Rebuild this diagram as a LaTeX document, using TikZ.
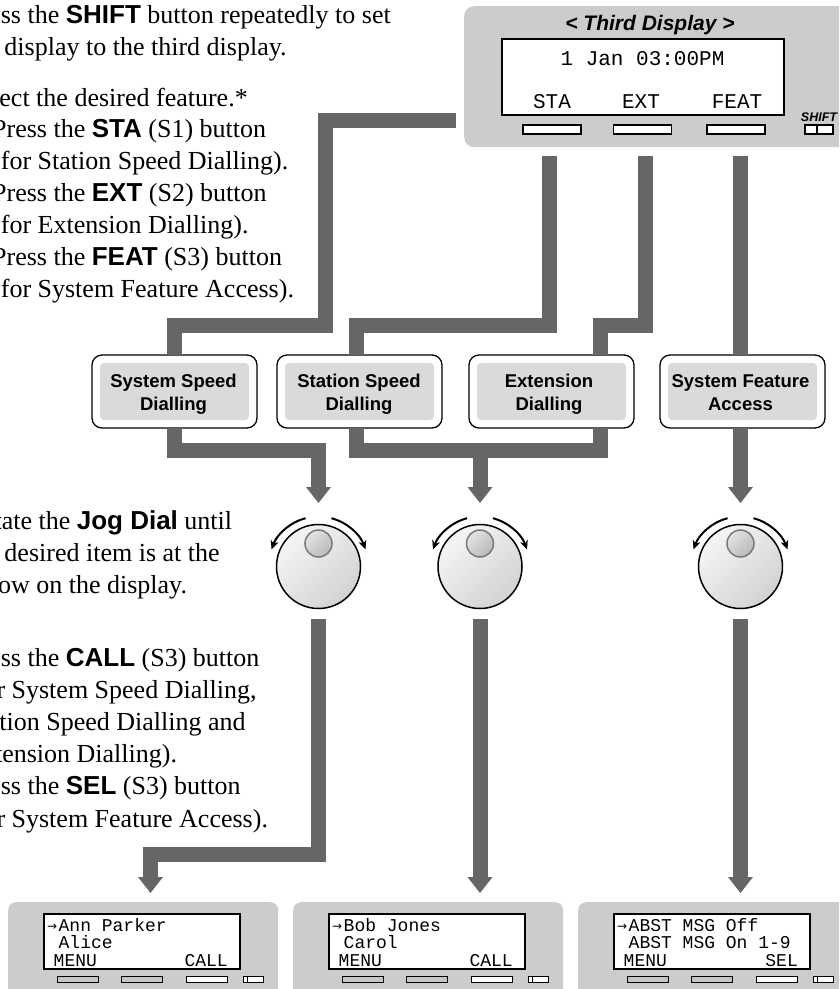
\documentclass[tikz,border=0pt]{standalone}
\usepackage{fontspec}
\setmainfont{Liberation Serif}
\newfontfamily\sansf{Liberation Sans}
\newfontfamily\monof{Liberation Mono}
\newfontfamily\arrf{DejaVu Sans}
\usetikzlibrary{arrows.meta,calc}
\definecolor{panelgray}{HTML}{CCCCCC}
\definecolor{conngray}{HTML}{666666}
\definecolor{boxgray}{HTML}{DADADA}
\definecolor{btngray}{HTML}{C6C6C6}
\newcommand\kw[1]{{\sansf\bfseries #1}}
\newcommand\headdown[1]{\fill[conngray] ($(#1)+(-12.5,-16)$) -- ($(#1)+(12.5,-16)$) -- (#1) -- cycle;}
\newcommand\botpanel[5]{%
\begin{scope}[shift={(#1,0)}]
\node[botbody] (#2) at (8,902) {};
\node[lcdbox,minimum width=196pt,minimum height=55pt] (#2lcd) at (43,913) {};
\node[arrtxt] (#2arr) at (47,930) {→};
\node[lcdsmall] (#2la) at (58.5,931) {#3};
\node[lcdsmall] (#2lb) at (58.5,948.5) {#4};
\node[lcdsmall] (#2lc) at (53.5,966) {MENU};
\node[lcdsmall,anchor=base east] (#2ld) at (228,966) {#5};
\node[sbtn,fill=btngray,minimum width=41pt] (#2ba) at (77.5,979) {};
\node[sbtn,fill=btngray,minimum width=41pt] (#2bb) at (141.5,979) {};
\node[sbtn,fill=white,minimum width=41pt] (#2bc) at (206.5,979) {};
\node[sbtn,fill=white,minimum width=20pt] (#2bd) at (253,979) {};
\draw[line width=1pt] (#2bd.north west) ++(5,0) -- ++(0,6);
\end{scope}}

\begin{document}
\begin{tikzpicture}[x=1pt,y=-1pt,
  conn/.style={draw=conngray,line width=15pt,line join=miter,line cap=butt},
  body/.style={anchor=base west,inner sep=0pt,font=\fontsize{26}{32}\selectfont},
  boxtxt/.style={anchor=base,inner sep=0pt,font=\sansf\bfseries\fontsize{18.5}{23}\selectfont},
  lcdbig/.style={anchor=base,inner sep=0pt,font=\monof\fontsize{21}{24}\selectfont},
  lcdsmall/.style={anchor=base west,inner sep=0pt,font=\monof\fontsize{18}{20}\selectfont},
  arrtxt/.style={anchor=base west,inner sep=0pt,font=\arrf\fontsize{12}{13}\selectfont},
  fbox/.style={draw,line width=1.3pt,fill=white,rounded corners=10pt,minimum width=165pt,minimum height=73pt,inner sep=0pt,outer sep=0pt},
  finner/.style={fill=boxgray,rounded corners=4pt,minimum width=149pt,minimum height=57pt,inner sep=0pt},
  lcdbox/.style={draw,line width=2pt,fill=white,anchor=north west,inner sep=0pt},
  tbtn/.style={draw,line width=1.2pt,fill=white,minimum width=58pt,minimum height=9pt,inner sep=0pt},
  sbtn/.style={draw,line width=1pt,minimum height=6pt,inner sep=0pt},
  botbody/.style={fill=panelgray,rounded corners=8pt,anchor=north west,minimum width=270pt,minimum height=110pt,inner sep=0pt},
  dial/.style={circle,draw,line width=1.5pt,minimum size=84pt,inner sep=0pt,top color=gray!8,bottom color=gray!35,shading angle=45},
  knob/.style={circle,draw=gray!95!black,line width=1.5pt,minimum size=27pt,inner sep=0pt,top color=gray!22,bottom color=gray!55,shading angle=45},
  rot/.style={line width=2pt,-{Stealth[length=9pt,width=8pt]}}
]
\clip (0,0) rectangle (839,989);

% ---------- instruction text ----------
\node[body] (t1) at (-34,23) {Press the \kw{SHIFT} button repeatedly to set};
\node[body] (t2) at (-34,55) {the display to the third display.};
\node[body] (t3) at (-34,106) {Select the desired feature.*};
\node[body] (t4) at (-8,137.5) {Press the \kw{STA} (S1) button};
\node[body] (t5) at (-8,169.5) {(for Station Speed Dialling).};
\node[body] (t6) at (-8,201) {Press the \kw{EXT} (S2) button};
\node[body] (t7) at (-8,233) {(for Extension Dialling).};
\node[body] (t8) at (-8,265) {Press the \kw{FEAT} (S3) button};
\node[body] (t9) at (-8,297) {(for System Feature Access).};

\node[body] (u1) at (-36,529) {Rotate the \kw{Jog Dial} until};
\node[body] (u2) at (-34,561) {the desired item is at the};
\node[body] (u3) at (-31,593) {arrow on the display.};
\node[body] (u4) at (-34,666) {Press the \kw{CALL} (S3) button};
\node[body] (u5) at (-34,698) {(for System Speed Dialling,};
\node[body] (u6) at (-34,730) {Station Speed Dialling and};
\node[body] (u7) at (-34,762) {Extension Dialling).};
\node[body] (u8) at (-34,794) {Press the \kw{SEL} (S3) button};
\node[body] (u9) at (-34,827) {(for System Feature Access).};

% ---------- top display ----------
\node[fill=panelgray,rounded corners=10pt,anchor=north west,minimum width=400pt,minimum height=141pt,inner sep=0pt] (top) at (464,6) {};
\node[anchor=base,inner sep=0pt,font=\sansf\bfseries\itshape\fontsize{21}{24}\selectfont] (title) at (650,30) {< Third Display >};
\node[lcdbox,minimum width=282pt,minimum height=76pt] (tlcd) at (501,38) {};
\node[lcdbig] (time) at (642.5,65) {1 Jan 03:00PM};
\node[lcdbig] (lsta) at (552,108) {STA};
\node[lcdbig] (lext) at (641,108) {EXT};
\node[lcdbig] (lfeat) at (737,108) {FEAT};
\node[tbtn] (bsta) at (552,129.5) {};
\node[tbtn] (bext) at (642.5,129.5) {};
\node[tbtn] (bfeat) at (736,129.5) {};
\node[anchor=base,inner sep=0pt,font=\sansf\bfseries\itshape\fontsize{12.5}{14}\selectfont] (lshift) at (819,121) {SHIFT};
\node[draw,line width=1.2pt,fill=white,minimum width=28pt,minimum height=9pt,inner sep=0pt] (bshift) at (819,129.5) {};
\draw[line width=1.2pt] (bshift.north) ++(-2,0) -- ++(0,9);

% ---------- feature boxes ----------
\node[fbox] (b1) at (174.5,391.5) {};
\node[fbox] (b2) at (359.5,391.5) {};
\node[fbox] (b3) at (551.5,391.5) {};
\node[fbox] (b4) at (742.5,391.5) {};
\node[finner] (b1i) at (b1) {};
\node[finner] (b2i) at (b2) {};
\node[finner] (b3i) at (b3) {};
\node[finner] (b4i) at (b4) {};
\node[boxtxt] (b1a) at (173.5,387) {System Speed};
\node[boxtxt] (b1b) at (173.5,410) {Dialling};
\node[boxtxt] (b2a) at (359,387) {Station Speed};
\node[boxtxt] (b2b) at (359,410) {Dialling};
\node[boxtxt] (b3a) at (549,387) {Extension};
\node[boxtxt] (b3b) at (549,410) {Dialling};
\node[boxtxt] (b4a) at (740.5,387) {System Feature};
\node[boxtxt] (b4b) at (740.5,410) {Access};

% ---------- connectors (top) ----------
\coordinate (c1s) at ($(top.west |- 0,120)+(-8,0)$);
\draw[conn] (c1s) -- (325,120) -- (325,325.5) -- (174.5,325.5) -- (174.5,0 |- b1.north);
\draw[conn] (549.5,156) -- (549.5,325.5) -- (356,325.5) -- (356,0 |- b2.north);
\draw[conn] (645,156) -- (645,325.5) -- (600,325.5) -- (600,0 |- b3.north);
\draw[conn] (740.5,156) -- (740.5,0 |- b4.north);

% ---------- dials ----------
\node[dial] (d1) at (318.5,566.5) {};
\node[dial] (d2) at (480,566.5) {};
\node[dial] (d3) at (740.5,566.5) {};
\node[knob] (k1) at (318.5,543.5) {};
\node[knob] (k2) at (480,543.5) {};
\node[knob] (k3) at (740.5,543.5) {};
\foreach \d in {d1,d2,d3}{
  \draw[rot] ($(\d)+(-105:50)$) arc[start angle=-105,end angle=-160,radius=50];
  \draw[rot] ($(\d)+(-75:50)$) arc[start angle=-75,end angle=-20,radius=50];
}

% ---------- connectors (boxes to dials) ----------
\coordinate (h1) at (318.5,503);
\coordinate (h2) at (480,503);
\coordinate (h3) at (740.5,503);
\draw[conn] (174.5,0 |- b1.south) -- (174.5,450.5) -- (318.5,450.5) -- ($(h1)+(0,-15)$);
\draw[conn] (356,0 |- b2.south) -- (356,450.5) -- (600,450.5) -- (600,0 |- b3.south);
\draw[conn] (480,450.5) -- ($(h2)+(0,-15)$);
\draw[conn] (740.5,0 |- b4.south) -- ($(h3)+(0,-15)$);
\headdown{h1}
\headdown{h2}
\headdown{h3}

% ---------- bottom displays ----------
\botpanel{0}{pa}{Ann Parker}{Alice}{CALL}
\botpanel{285}{pb}{Bob Jones}{Carol}{CALL}
\botpanel{570}{pc}{ABST MSG Off}{ABST MSG On 1-9}{SEL}

% ---------- connectors (dials to displays) ----------
\coordinate (g1) at (150.5,893);
\coordinate (g2) at (480,893);
\coordinate (g3) at (740.5,893);
\draw[conn] ([yshift=-10pt]d1.south) -- (318.5,854.5) -- (150.5,854.5) -- ($(g1)+(0,-15)$);
\draw[conn] ([yshift=-10pt]d2.south) -- ($(g2)+(0,-15)$);
\draw[conn] ([yshift=-10pt]d3.south) -- ($(g3)+(0,-15)$);
\headdown{g1}
\headdown{g2}
\headdown{g3}
\end{tikzpicture}
\end{document}
